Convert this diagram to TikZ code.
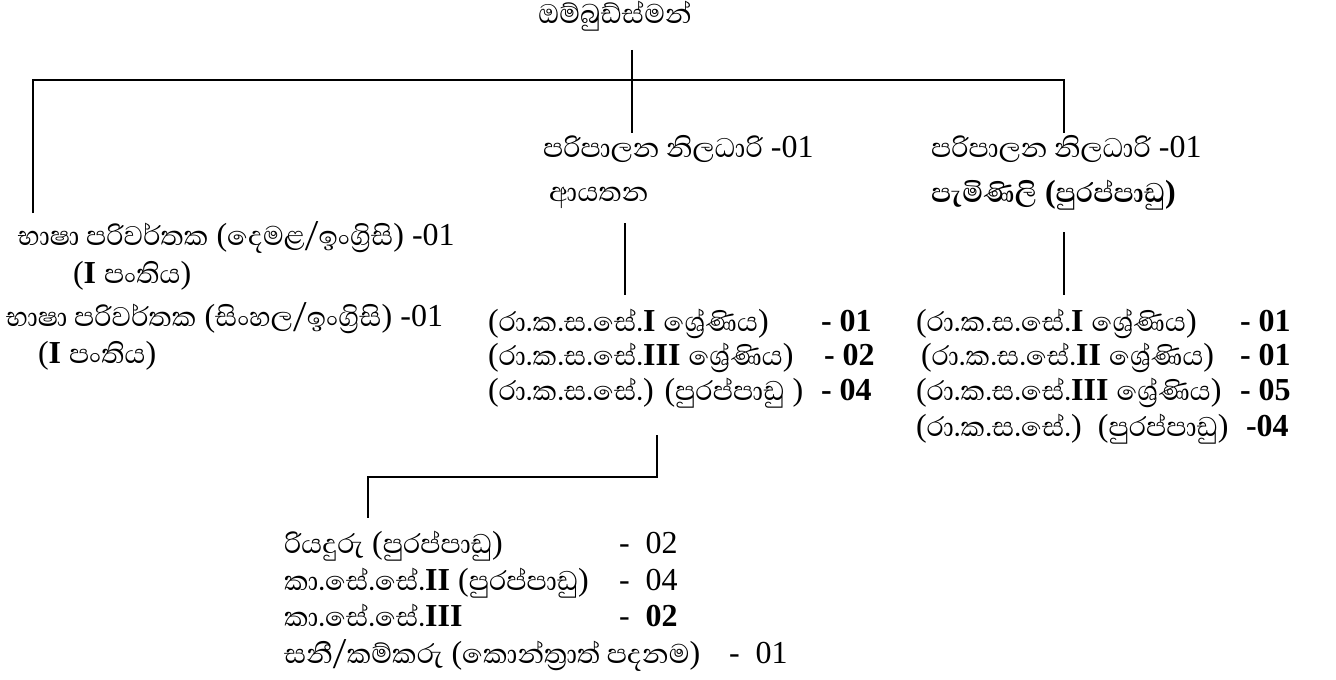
\documentclass[tikz,border=0pt]{standalone}
\usepackage{fontspec}
\setmainfont{Liberation Serif}
\newfontfamily\sinhfont[Script=Sinhala, Scale=1.08]{Abhaya Libre}
\newcommand{\snh}[1]{{\sinhfont #1}}

\begin{document}
\begin{tikzpicture}[x=0.5pt, y=-0.5pt, line width=1pt,
    txt/.style={anchor=base west, inner sep=0pt, font=\fontsize{16}{19}\selectfont},
    cnt/.style={txt, font=\fontsize{16}{19}\selectfont\bfseries}]
    \useasboundingbox (0,0) rectangle (1336,679);
    % head
    \node[txt, anchor=base] (ombud) at (615,24) {\snh{ඔම්බුඩ්ස්මන්}};
    % two admin officers
    \node[txt] (admA) at (542,158) {\snh{පරිපාලන නිලධාරි} -01};
    \node[txt] (admAsub) at (548,202) {\snh{ආයතන}};
    \node[txt] (admB) at (930,158) {\snh{පරිපාලන නිලධාරි} -01};
    \node[txt] (admBsub) at (930,203) {\bfseries\snh{පැමිණිලි} (\snh{පුරප්පාඩු})};
    % translators
    \node[txt] (langA) at (17,245) {\snh{භාෂා පරිවර්තක} (\snh{දෙමළ/ඉංග්^^^^200dරිසි}) -01};
    \node[txt] (langAcl) at (72,283) {(\textbf{I} \snh{පංතිය})};
    \node[txt] (langB) at (5,326) {\snh{භාෂා පරිවර්තක} (\snh{සිංහල/ඉංග්^^^^200dරිසි}) -01};
    \node[txt] (langBcl) at (37,363) {(\textbf{I} \snh{පංතිය})};
    % staff under admin (institutions)
    \foreach \n/\yy/\lab/\cx/\num in {
        1/331/{(\snh{රා.ක.ස.සේ.}\textbf{I} \snh{ශ්^^^^200dරේණිය})}/820/01,
        2/365/{(\snh{රා.ක.ස.සේ.}\textbf{III} \snh{ශ්^^^^200dරේණිය})}/823/02,
        3/400/{(\snh{රා.ක.ස.සේ.}) (\snh{පුරප්පාඩු} )}/820/04} {
        \node[txt] (instr\n) at (487,\yy) {\lab};
        \node[cnt] (instc\n) at (\cx,\yy) {- \num};
    }
    % staff under admin (complaints)
    \foreach \n/\yy/\xx/\lab/\cx/\num in {
        1/331/915/{(\snh{රා.ක.ස.සේ.}\textbf{I} \snh{ශ්^^^^200dරේණිය})}/1239/- 01,
        2/365/920/{(\snh{රා.ක.ස.සේ.}\textbf{II} \snh{ශ්^^^^200dරේණිය})}/1239/- 01,
        3/400/915/{(\snh{රා.ක.ස.සේ.}\textbf{III} \snh{ශ්^^^^200dරේණිය})}/1239/- 05,
        4/436/915/{(\snh{රා.ක.ස.සේ.})\ \ (\snh{පුරප්පාඩු})}/1245/-04} {
        \node[txt] (compr\n) at (\xx,\yy) {\lab};
        \node[cnt] (compc\n) at (\cx,\yy) {\num};
    }
    % minor staff
    \foreach \n/\yy/\lab/\cx/\num in {
        1/553/{\snh{රියදුරු} (\snh{පුරප්පාඩු})}/618/{-\ \ 02},
        2/590/{\snh{කා.සේ.සේ.}\textbf{II} (\snh{පුරප්පාඩු})}/618/{-\ \ 04},
        3/626/{\snh{කා.සේ.සේ.}\textbf{III}}/618/{-\ \ \textbf{02}},
        4/663/{\snh{සනී/කම්කරු} (\snh{කොන්ත්^^^^200dරාත් පදනම})}/728/{-\ \ 01}} {
        \node[txt] (minr\n) at (283,\yy) {\lab};
        \node[txt] (minc\n) at (\cx,\yy) {\num};
    }
    % connectors
    \coordinate (hubTop) at (632,50);
    \coordinate (hubBot) at (632,133);
    \coordinate (barL) at (33,80);
    \coordinate (barR) at (1064,80);
    \coordinate (legL) at (33,213);
    \coordinate (legR) at (1064,133);
    \coordinate (tickAtop) at (625,223);
    \coordinate (tickAbot) at (625,295);
    \coordinate (tickBtop) at (1064,232);
    \coordinate (tickBbot) at (1064,295);
    \coordinate (dropTop) at (657,435);
    \coordinate (dropBot) at (368,518);
    \draw (hubTop) -- (hubBot);
    \draw (legL) -- (barL) -- (barR) -- (legR);
    \draw (tickAtop) -- (tickAbot);
    \draw (tickBtop) -- (tickBbot);
    \draw (dropTop) -- ++(0,42) -| (dropBot);
\end{tikzpicture}
\end{document}
